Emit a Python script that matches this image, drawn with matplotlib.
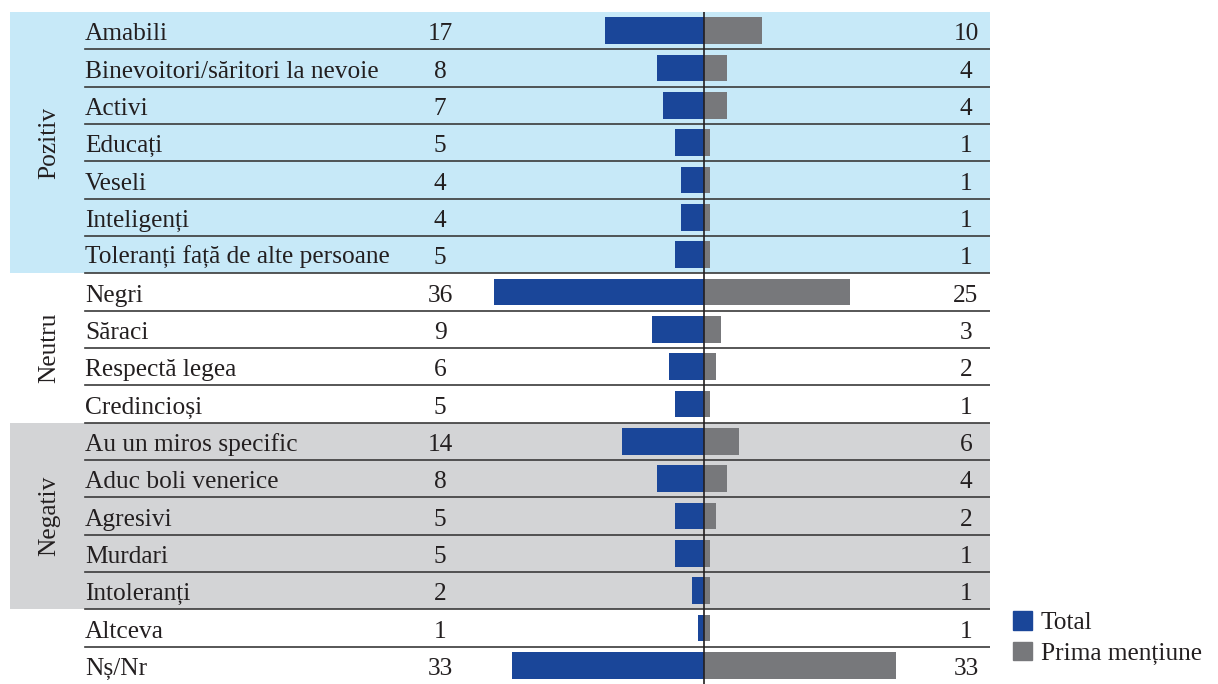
import matplotlib
matplotlib.use("Agg")
import matplotlib.pyplot as plt
from matplotlib.patches import Patch
import numpy as np

labels = ["Amabili", "Binevoitori/săritori la nevoie", "Activi", "Educați",
          "Veseli", "Inteligenți", "Toleranți față de alte persoane",
          "Negri", "Săraci", "Respectă legea", "Credincioși",
          "Au un miros specific", "Aduc boli venerice", "Agresivi", "Murdari",
          "Intoleranți", "Altceva", "Nș/Nr"]
total = [17, 8, 7, 5, 4, 4, 5, 36, 9, 6, 5, 14, 8, 5, 5, 2, 1, 33]
prima = [10, 4, 4, 1, 1, 1, 1, 25, 3, 2, 1, 6, 4, 2, 1, 1, 1, 33]
groups = [("Pozitiv", 0, 6, "#c7e9f8"), ("Neutru", 7, 10, None),
          ("Negativ", 11, 15, "#d3d4d6")]

BLUE = "#1a4699"
GREY = "#77787b"
FONT = "Liberation Serif"
FS = 18.3
TXT = "#231f20"

W, H = 1218, 684
fig = plt.figure(figsize=(W / 100, H / 100), dpi=100)
# axes spans px x 10..990, y 12..684
ax = fig.add_axes([10 / W, 0, 980 / W, 672 / H])
ppu = 5.83  # pixels per unit
x0 = -(704 - 10) / ppu
x1 = (990 - 704) / ppu
ax.set_xlim(x0, x1)
n = len(labels)
ax.set_ylim(n - 0.5, -0.5)
ax.axis("off")

def px(x):
    return (x - 704) / ppu

y = np.arange(n)
for name, a, b, col in groups:
    if col:
        ax.axhspan(a - 0.5, b + 0.5, xmin=0, xmax=1, color=col, zorder=0, lw=0)
    ax.text(px(49), (a + b) / 2, name, rotation=90, ha="center", va="center",
            fontsize=FS, family=FONT, color=TXT)

for k in range(n - 1):
    ax.plot([px(85), x1], [k + 0.5, k + 0.5], color="#3a3a3a", lw=1.2, zorder=1)

ax.barh(y, [-t for t in total], height=0.72, color=BLUE, zorder=2)
ax.barh(y, prima, height=0.72, color=GREY, zorder=2)
ax.plot([0, 0], [-0.5, n - 0.5], color=TXT, lw=1.2, zorder=3)

for i in range(n):
    ax.text(px(85), i + 0.26, labels[i], ha="left", va="baseline", fontsize=FS,
            family=FONT, color=TXT)
    ax.text(px(440), i + 0.26, str(total[i]), ha="center", va="baseline",
            fontsize=FS, family=FONT, color=TXT)
    ax.text(px(966), i + 0.26, str(prima[i]), ha="center", va="baseline",
            fontsize=FS, family=FONT, color=TXT)

handles = [Patch(color=BLUE, label="Total"), Patch(color=GREY, label="Prima mențiune")]
fig.legend(handles=handles, loc="upper left", bbox_to_anchor=(1013 / W, 1 - 611 / H),
           frameon=False, prop={"family": FONT, "size": FS}, handlelength=0.75,
           handleheight=0.75, handletextpad=0.35, labelspacing=0.3, borderpad=0,
           borderaxespad=0)
for t in fig.legends[0].get_texts():
    t.set_color(TXT)

fig.savefig("out.png", dpi=100)
